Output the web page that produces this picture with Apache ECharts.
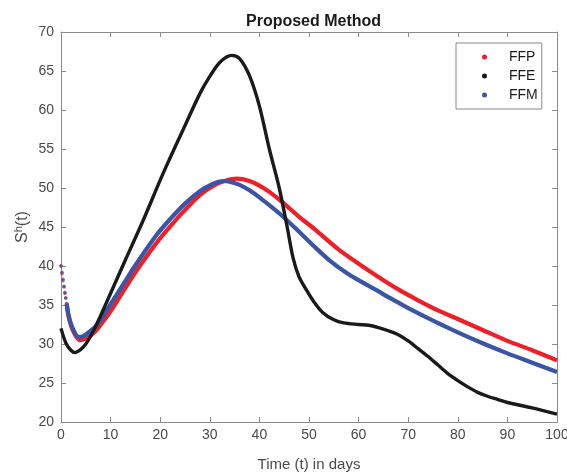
<!DOCTYPE html>
<html>
<head>
<meta charset="utf-8">
<script src="https://cdn.jsdelivr.net/npm/echarts@6/dist/echarts.min.js"></script>
<style>
html,body{margin:0;padding:0;background:#fff;overflow:hidden;}
#c{width:567px;height:474px;}
</style>
</head>
<body>
<div id="c"></div>
<script>
// ---- data ----
var xTicks = [0, 10, 20, 30, 40, 50, 60, 70, 80, 90, 100];
var yTicks = [20, 25, 30, 35, 40, 45, 50, 55, 60, 65, 70];

// FFP (red): early sparse dots, then continuous curve
var ffpDots = [[0,40.0],[0.2,39.0],[0.4,38.1],[0.6,37.3],[0.8,36.5],[0.95,35.9],[1.15,35.2]];
var ffpLine = [[1.15,35.2],[1.5,33.6],[2,32.4],[2.5,31.6],[3,31.0],[3.8,30.5],[5,30.7],[6,31.1],[7.2,31.8],[8.5,32.9],[10,34.2],[12.6,36.8],[15,39.2],[19.3,43.0],[22.6,45.5],[25,47.2],[28,49.1],[31,50.4],[33,50.9],[35.4,51.2],[38,50.9],[40,50.3],[42,49.5],[44.8,48.1],[48,46.3],[51,44.8],[56,42.1],[60,40.3],[64,38.6],[68,37.0],[72,35.6],[76,34.3],[80,33.2],[85,31.8],[90,30.4],[95,29.2],[100,27.9]];

// FFE (black)
var ffeLine = [[0,32.0],[1,30.1],[2,29.2],[2.8,28.9],[4,29.3],[5,30.0],[5.8,30.8],[7,32.3],[7.9,33.5],[10,36.5],[13,40.8],[16.6,45.9],[20,51.0],[21.8,53.6],[25,58.0],[28,62.1],[30,64.3],[32,66.1],[34.4,67.0],[36,66.6],[38,64.4],[40,60.5],[42,55.0],[44,50.0],[45.6,45.0],[46.8,41.0],[48,38.6],[49.5,36.9],[51,35.4],[52.8,34.0],[55,33.1],[57,32.7],[60,32.5],[62,32.4],[64,32.1],[66,31.7],[68,31.2],[70,30.4],[72,29.4],[74,28.4],[76,27.3],[78,26.2],[80,25.3],[82,24.5],[84,23.8],[86,23.3],[88,22.9],[90,22.5],[95,21.8],[100,21.0]];

// FFM (blue): early sparse dots, then continuous curve
var ffmDots = [[0,40.0],[0.2,39.2],[0.4,38.3],[0.6,37.4],[0.8,36.6],[0.95,35.9],[1.15,35.1]];
var ffmLine = [[1.15,35.1],[1.5,33.8],[2,32.6],[2.5,31.8],[3,31.2],[3.5,30.9],[4.5,31.0],[6,31.7],[7.2,32.4],[8.5,33.6],[10,35.1],[12.6,37.7],[15,40.1],[19.3,44.0],[22,46.0],[25,48.0],[28,49.6],[30.5,50.5],[32.7,50.9],[34,50.8],[36,50.4],[38,49.7],[40,48.8],[42,47.8],[44.1,46.7],[47,45.0],[50.9,42.6],[54,40.8],[57.6,39.1],[60.5,38.0],[63.6,36.9],[66,36.0],[68.3,35.2],[70,34.6],[75,33.0],[80,31.5],[85,30.1],[90,28.8],[95,27.6],[100,26.4]];

var names = ['FFP', 'FFE', 'FFM'];
var colors = {FFP:'#ee1f26', FFE:'#1a1a1a', FFM:'#3a55a5'};

var axisGray = '#8a8a8a';
var textGray = '#4a4a4a';
var font = 'Liberation Sans, Arial, Helvetica, sans-serif';

var el = document.getElementById('c');
var chart = echarts.init(el, null, {renderer:'canvas', width:567, height:474});

function xAxisDef(pos, showLabels) {
  return {
    type:'value', position:pos, min:xTicks[0], max:xTicks[xTicks.length-1], interval:10,
    name: showLabels ? 'Time (t) in days' : '',
    nameLocation:'middle', nameGap:35, nameMoveOverlap:false,
    nameTextStyle:{fontFamily:font, fontSize:15, color:textGray},
    axisLine:{show:true, onZero:false, lineStyle:{color:axisGray, width:1}},
    axisTick:{show:true, inside:true, length:5, lineStyle:{color:axisGray}},
    axisLabel:{show:showLabels, fontFamily:font, fontSize:14, color:textGray, margin:6},
    splitLine:{show:false}
  };
}
function yAxisDef(pos, showLabels) {
  return {
    type:'value', position:pos, min:yTicks[0], max:yTicks[yTicks.length-1], interval:5,
    name: showLabels ? '{s|S}{h|h}{s|(t)}' : '',
    nameLocation:'middle', nameGap:30, nameRotate:90, nameMoveOverlap:false,
    nameTextStyle:{fontFamily:font, fontSize:16, color:textGray,
      rich:{s:{fontFamily:font, fontSize:16, color:textGray, verticalAlign:'bottom'},
            h:{fontFamily:font, fontSize:11, color:textGray, verticalAlign:'top', padding:[0,0,7,0]}}},
    axisLine:{show:true, onZero:false, lineStyle:{color:axisGray, width:1}},
    axisTick:{show:true, inside:true, length:5, lineStyle:{color:axisGray}},
    axisLabel:{show:showLabels, fontFamily:font, fontSize:14, color:textGray, margin:7},
    splitLine:{show:false}
  };
}

var series = [
  {name:'FFP', type:'line', data:ffpLine, z:2},
  {name:'FFP', type:'scatter', data:ffpDots, z:2},
  {name:'FFE', type:'line', data:ffeLine, z:4},
  {name:'FFM', type:'line', data:ffmLine, z:3},
  {name:'FFM', type:'scatter', data:ffmDots, z:3}
].map(function(s){
  var c = colors[s.name];
  if (s.type === 'line') {
    s.smooth = 0.3;
    s.showSymbol = false; s.symbol = 'circle'; s.symbolSize = 4;
    s.lineStyle = {color:c, width: s.name === 'FFE' ? 3.4 : 4.2};
    s.itemStyle = {color:c};
  } else {
    s.symbol = 'circle'; s.symbolSize = 3.5;
    s.itemStyle = {color:c};
  }
  s.animation = false;
  s.xAxisIndex = 0; s.yAxisIndex = 0;
  return s;
});

chart.setOption({
  backgroundColor:'#ffffff',
  animation:false,
  title:{text:'Proposed Method', left:241, top:9,
    textStyle:{fontFamily:font, fontSize:16, fontWeight:'bold', color:'#1a1a1a'}},
  grid:{left:61, top:32, width:496, height:390, containLabel:false, outerBoundsMode:'none'},
  legend:{
    data:names.map(function(n){return {name:n, icon:'circle'};}),
    orient:'vertical', left:456, top:43,
    padding:[6, 4, 6, 26],
    itemWidth:5, itemHeight:5, itemGap:3,
    borderColor:'#8a8a8a', borderWidth:1, backgroundColor:'#fff',
    textStyle:{fontFamily:font, fontSize:14, color:'#1a1a1a', lineHeight:16, padding:[0,0,0,17]}
  },
  xAxis:[xAxisDef('bottom', true), xAxisDef('top', false)],
  yAxis:[yAxisDef('left', true), yAxisDef('right', false)],
  series:series
});
</script>
</body>
</html>
